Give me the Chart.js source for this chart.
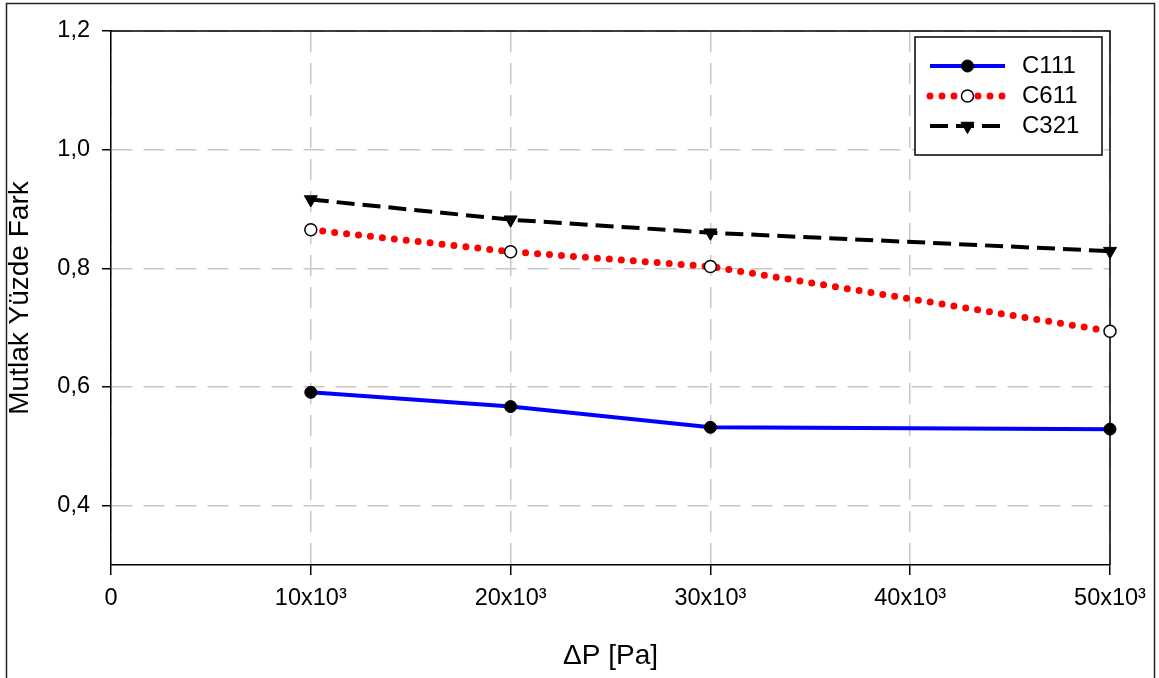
<!DOCTYPE html>
<html>
<head>
<meta charset="utf-8">
<script src="https://cdn.jsdelivr.net/npm/chart.js@4/dist/chart.umd.min.js"></script>
<style>
  html, body { margin: 0; padding: 0; background: #fff; }
  #wrap { width: 1159px; height: 678px; }
</style>
</head>
<body>
<div id="wrap"><canvas id="myChart" width="1159" height="678"></canvas></div>
<script>
// values
const pressures = [10000, 20000, 30000, 50000];
const c111 = [0.591, 0.567, 0.532, 0.529];
const c611 = [0.865, 0.828, 0.803, 0.694];
const c321 = [0.916, 0.882, 0.860, 0.829];
const seriesNames = ["C111", "C611", "C321"];
const xTickValues = [0, 10000, 20000, 30000, 40000, 50000];
const yTickValues = [0.4, 0.6, 0.8, 1.0, 1.2];

const FONT = "'Liberation Sans', Arial, sans-serif";

const toPoints = (ys) => pressures.map((x, i) => ({ x: x, y: ys[i] }));

// outer frame, top/right plot border
const framePlugin = {
  id: "frame",
  beforeDraw(chart) {
    const ctx = chart.ctx;
    ctx.save();
    ctx.fillStyle = "#fff";
    ctx.fillRect(0, 0, chart.width, chart.height);
    ctx.strokeStyle = "#222";
    ctx.lineWidth = 1.5;
    ctx.strokeRect(6.5, 3.5, 1148, 700);
    ctx.restore();
  },
  beforeDatasetsDraw(chart) {
    const a = chart.chartArea;
    const ctx = chart.ctx;
    ctx.save();
    ctx.strokeStyle = "#000";
    ctx.lineWidth = 1.5;
    ctx.beginPath();
    ctx.moveTo(a.left, a.top);
    ctx.lineTo(a.right, a.top);
    ctx.lineTo(a.right, a.bottom);
    ctx.stroke();
    ctx.restore();
  },
};

// boxed legend in the upper right, drawn from the dataset styles
const boxLegend = {
  id: "boxLegend",
  afterDatasetsDraw(chart) {
    const ctx = chart.ctx;
    const bx = 915, by = 37, bw = 187, bh = 118;
    ctx.save();
    ctx.fillStyle = "#fff";
    ctx.fillRect(bx, by, bw, bh);
    ctx.strokeStyle = "#000";
    ctx.lineWidth = 1.5;
    ctx.strokeRect(bx, by, bw, bh);
    chart.data.datasets.forEach((ds, i) => {
      const y = 66 + i * 30;
      const x0 = 930, x1 = 1005;
      ctx.save();
      ctx.strokeStyle = ds.borderColor;
      ctx.lineWidth = ds.borderWidth;
      ctx.lineCap = ds.borderCapStyle || "butt";
      ctx.setLineDash(ds.borderDash || []);
      ctx.beginPath();
      ctx.moveTo(x0, y);
      ctx.lineTo(x1, y);
      ctx.stroke();
      ctx.restore();
      ctx.save();
      ctx.fillStyle = ds.pointBackgroundColor;
      ctx.strokeStyle = ds.pointBorderColor;
      ctx.lineWidth = ds.pointBorderWidth;
      Chart.helpers.drawPoint(ctx, {
        pointStyle: ds.pointStyle,
        radius: ds.pointRadius,
        rotation: ds.pointRotation || 0,
        borderWidth: ds.pointBorderWidth,
      }, (x0 + x1) / 2, y);
      ctx.restore();
      ctx.fillStyle = "#000";
      ctx.font = "24px " + FONT;
      ctx.textBaseline = "middle";
      ctx.textAlign = "left";
      ctx.fillText(ds.label, 1022, y);
    });
    ctx.restore();
  },
};

const data = {
  datasets: [
    {
      label: seriesNames[0],
      data: toPoints(c111),
      borderColor: "#0000ff",
      borderWidth: 4,
      pointStyle: "circle",
      pointRadius: 6,
      pointBackgroundColor: "#000",
      pointBorderColor: "#000",
      pointBorderWidth: 1,
    },
    {
      label: seriesNames[1],
      data: toPoints(c611),
      borderColor: "#ff0000",
      borderWidth: 7,
      borderDash: [0, 12],
      borderCapStyle: "round",
      pointStyle: "circle",
      pointRadius: 6,
      pointBackgroundColor: "#fff",
      pointBorderColor: "#000",
      pointBorderWidth: 1.5,
    },
    {
      label: seriesNames[2],
      data: toPoints(c321),
      borderColor: "#000",
      borderWidth: 4,
      borderDash: [18, 8],
      pointStyle: "triangle",
      pointRotation: 180,
      pointRadius: 7.5,
      pointBackgroundColor: "#000",
      pointBorderColor: "#000",
      pointBorderWidth: 1,
    },
  ],
};

const config = {
  type: "line",
  data: data,
  options: {
    responsive: false,
    animation: false,
    layout: { padding: { left: 0, top: 31, right: 49, bottom: 0 } },
    elements: { line: { tension: 0, fill: false } },
    datasets: { line: { clip: false } },
    plugins: {
      legend: { display: false },
      tooltip: { enabled: false },
    },
    scales: {
      x: {
        type: "linear",
        min: 0,
        max: 50000,
        afterBuildTicks: (s) => { s.ticks = xTickValues.map((v) => ({ value: v })); },
        afterFit: (s) => { s.height = 113; },
        grid: {
          color: "#c8c8c8",
          lineWidth: 1.5,
          tickColor: "#000",
          tickWidth: 1.5,
          tickLength: 10,
        },
        border: { color: "#000", width: 1.5, dash: [21, 11] },
        ticks: {
          color: "#000",
          font: { family: FONT, size: 23.5 },
          padding: 9,
          maxRotation: 0,
          callback: (v) => (v === 0 ? "0" : v / 1000 + "x10\u00b3"),
        },
        title: {
          display: true,
          text: "\u0394P [Pa]",
          color: "#000",
          font: { family: FONT, size: 28 },
          padding: { top: 0, bottom: 5 },
        },
      },
      y: {
        min: 0.3,
        max: 1.2,
        afterBuildTicks: (s) => { s.ticks = yTickValues.map((v) => ({ value: v })); },
        afterFit: (s) => { s.width = 111; },
        grid: {
          color: "#c8c8c8",
          lineWidth: 1.5,
          tickColor: "#000",
          tickWidth: 1.5,
          tickLength: 9,
        },
        border: { color: "#000", width: 1.5, dash: [21, 11] },
        ticks: {
          color: "#000",
          font: { family: FONT, size: 23.5 },
          padding: 12,
          callback: (v) => v.toFixed(1).replace(".", ","),
        },
        title: {
          display: true,
          text: "Mutlak Yüzde Fark",
          color: "#000",
          font: { family: FONT, size: 28 },
          padding: { top: 3, bottom: 0 },
        },
      },
    },
  },
  plugins: [framePlugin, boxLegend],
};

const ctx = document.getElementById("myChart").getContext("2d");
const myChart = new Chart(ctx, config);
</script>
</body>
</html>
